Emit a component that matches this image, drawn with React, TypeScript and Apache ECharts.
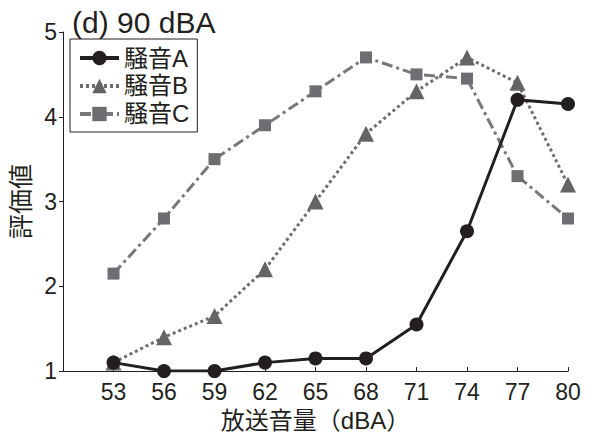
import React, { useEffect, useRef } from "react";
import * as echarts from "echarts";

const xValues = [53, 56, 59, 62, 65, 68, 71, 74, 77, 80];
const noiseA = [1.1, 1.0, 1.0, 1.1, 1.15, 1.15, 1.55, 2.65, 4.2, 4.15];
const noiseB = [1.1, 1.4, 1.65, 2.2, 3.0, 3.8, 4.3, 4.7, 4.4, 3.2];
const noiseC = [2.15, 2.8, 3.5, 3.9, 4.3, 4.7, 4.5, 4.45, 3.3, 2.8];
const seriesNames = ["騒音A", "騒音B", "騒音C"];
const titleText = "(d) 90 dBA";
const xName = "放送音量（dBA）";
const yName = "評価値";

const FONT = "'Liberation Sans', Arial, 'Noto Sans CJK JP', sans-serif";
const INK = "#231f20";

export default function App() {
  const ref = useRef<HTMLDivElement>(null);
  useEffect(() => {
    const chart = echarts.init(ref.current!, null, { renderer: "svg" });
    const pair = (ys: number[]) => xValues.map((x, i) => [x, ys[i]]);
    chart.setOption({
      animation: false,
      textStyle: { fontFamily: FONT },
      title: {
        text: titleText,
        left: 67,
        top: 2,
        textStyle: { fontSize: 30, fontWeight: "normal", color: INK, fontFamily: FONT },
      },
      grid: { left: 63, right: 26, top: 32, bottom: 61, containLabel: false },
      legend: {
        orient: "vertical",
        left: 70,
        top: 39,
        itemWidth: 39,
        itemHeight: 18,
        itemGap: 4,
        padding: [7, 8, 6, 8],
        borderColor: INK,
        borderWidth: 1,
        borderRadius: 0,
        backgroundColor: "#fff",
        lineStyle: { width: 4 },
        textStyle: { fontSize: 24, color: INK, fontFamily: FONT },
        data: seriesNames,
      },
      xAxis: {
        type: "value",
        min: 50,
        max: 80,
        interval: 3,
        name: xName,
        nameLocation: "middle",
        nameGap: 34,
        nameTextStyle: { fontSize: 24, color: INK, fontFamily: FONT },
        axisLine: { show: true, lineStyle: { color: INK, width: 1 } },
        axisTick: { show: true, inside: true, length: 4, lineStyle: { color: INK } },
        axisLabel: {
          fontSize: 23,
          color: INK,
          margin: 9,
          formatter: (v: number) => (v === 50 ? "" : String(v)),
        },
        splitLine: { show: false },
      },
      yAxis: {
        type: "value",
        min: 1,
        max: 5,
        interval: 1,
        name: yName,
        nameLocation: "middle",
        nameGap: 25,
        nameRotate: 90,
        nameTextStyle: { fontSize: 25, color: INK, fontFamily: FONT },
        axisLine: { show: true, lineStyle: { color: INK, width: 1 } },
        axisTick: { show: true, inside: false, length: 4, lineStyle: { color: INK } },
        axisLabel: { fontSize: 23, color: INK, margin: 6 },
        splitLine: { show: false },
      },
      series: [
        {
          name: seriesNames[0],
          type: "line",
          data: pair(noiseA),
          symbol: "circle",
          symbolSize: 14,
          z: 5,
          itemStyle: { color: INK },
          lineStyle: { color: INK, width: 3, type: "solid" },
        },
        {
          name: seriesNames[1],
          type: "line",
          data: pair(noiseB),
          symbol: "triangle",
          symbolSize: 16,
          z: 4,
          itemStyle: { color: "#636466" },
          lineStyle: { color: "#6d6e71", width: 3, type: [3, 3] },
        },
        {
          name: seriesNames[2],
          type: "line",
          data: pair(noiseC),
          symbol: "rect",
          symbolSize: 12,
          z: 3,
          itemStyle: { color: "#6d6e71" },
          lineStyle: { color: "#77787b", width: 3, type: [11, 4, 3, 4] },
        },
      ],
    });
    return () => chart.dispose();
  }, []);
  return <div ref={ref} style={{ width: 594, height: 437, position: "absolute", left: 0, top: 0 }} />;
}
